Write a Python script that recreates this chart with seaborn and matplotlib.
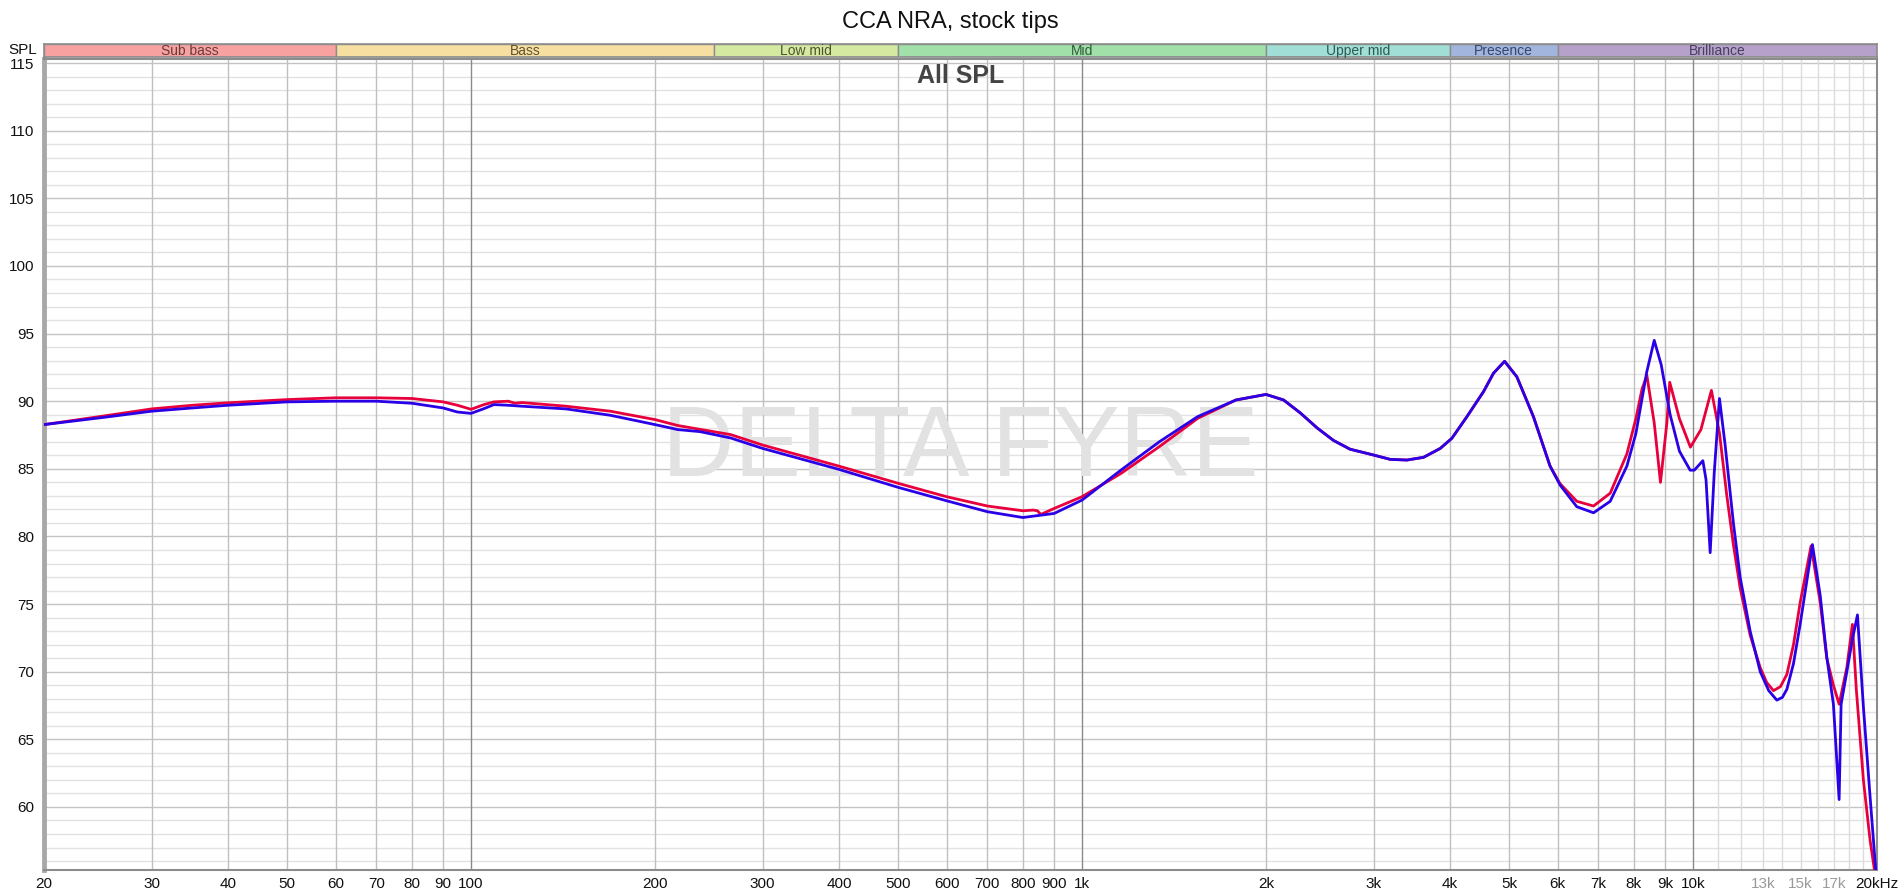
import numpy as np
import pandas as pd
import matplotlib
matplotlib.use("Agg")
import matplotlib.pyplot as plt
import seaborn as sns

# === Data ===
red_freq = [20, 25, 30, 35, 40, 50, 60, 70, 80, 90, 95, 100, 105, 109, 115, 118, 121,
            143, 169, 200, 218, 237, 266, 300, 400, 500, 600, 700, 800, 832, 845, 856,
            900, 1000, 1159, 1338, 1546, 1786, 2000, 2137, 2275, 2424, 2579, 2746, 3000,
            3193, 3401, 3621, 3857, 4030, 4265, 4540, 4714, 4915, 5148, 5480, 5834, 6058,
            6452, 6872, 7318, 7792, 8060, 8250, 8402, 8638, 8844, 9060, 9158, 9500, 9900,
            10300, 10716, 11050, 11350, 11640, 11940, 12400, 12880, 13200, 13540, 13900,
            14240, 14600, 14970, 15600, 16150, 16550, 16970, 17340, 17850, 18230, 18500,
            19000, 19490, 19800, 20000]
red_spl = [88.27, 88.9, 89.43, 89.7, 89.88, 90.12, 90.25, 90.25, 90.2, 89.95, 89.7, 89.4, 89.75,
           89.95, 90.0, 89.85, 89.9, 89.63, 89.26, 88.64, 88.2, 87.92, 87.53, 86.76, 85.2, 83.93,
           82.94, 82.25, 81.9, 81.95, 81.9, 81.63, 82.07, 82.94, 84.67, 86.64, 88.73, 90.09, 90.5,
           90.09, 89.14, 88.03, 87.1, 86.45, 86.02, 85.7, 85.65, 85.85, 86.51, 87.26, 88.86, 90.71,
           92.07, 92.95, 91.8, 88.85, 85.2, 83.9, 82.6, 82.25, 83.2, 86.1, 88.7, 90.9, 91.9, 88.4,
           84.0, 88.4, 91.4, 88.7, 86.6, 87.9, 90.8, 87.6, 83.1, 79.4, 76.2, 72.7, 70.3, 69.2,
           68.6, 68.9, 69.8, 72.0, 75.1, 79.3, 75.1, 71.0, 69.0, 67.6, 70.3, 73.5, 68.7, 62.0,
           57.5, 55.4, 55.0]

blue_freq = [20, 25, 30, 35, 40, 50, 60, 70, 80, 90, 95, 100, 105, 109, 115, 121, 143, 169,
             200, 218, 237, 266, 300, 400, 500, 600, 700, 800, 900, 1000, 1159, 1338, 1546,
             1786, 2000, 2137, 2275, 2424, 2579, 2746, 3000, 3193, 3401, 3621, 3857, 4030,
             4265, 4540, 4714, 4915, 5148, 5480, 5834, 6058, 6452, 6872, 7318, 7792, 8060,
             8402, 8638, 8868, 9172, 9500, 9890, 10046, 10376, 10500, 10666, 10830, 11046,
             11282, 11641, 11940, 12400, 12880, 13300, 13710, 14000, 14240, 14600, 14970,
             15680, 16150, 16550, 16970, 17340, 17470, 17850, 18230, 18580, 19000, 19490,
             19900, 20000]
blue_spl = [88.27, 88.8, 89.26, 89.5, 89.7, 89.95, 90.0, 90.0, 89.85, 89.5, 89.2, 89.1, 89.45,
            89.75, 89.7, 89.63, 89.43, 88.96, 88.27, 87.9, 87.75, 87.28, 86.51, 84.96, 83.63,
            82.64, 81.83, 81.4, 81.7, 82.69, 84.92, 87.0, 88.86, 90.09, 90.5, 90.09, 89.14,
            88.03, 87.1, 86.45, 86.02, 85.7, 85.65, 85.85, 86.51, 87.26, 88.86, 90.71, 92.07,
            92.95, 91.8, 88.85, 85.2, 83.8, 82.2, 81.75, 82.6, 85.2, 87.6, 92.2, 94.5, 92.7,
            89.0, 86.3, 84.9, 84.9, 85.6, 84.2, 78.8, 84.7, 90.2, 86.8, 81.0, 77.0, 73.0, 70.0,
            68.6, 67.9, 68.1, 68.7, 70.6, 73.5, 79.4, 75.6, 71.1, 67.6, 60.55, 67.6, 70.0, 72.4,
            74.2, 67.4, 60.7, 55.4, 55.0]

band_names = ["Sub bass", "Bass", "Low mid", "Mid", "Upper mid", "Presence", "Brilliance"]
band_edges = [20, 60, 250, 500, 2000, 4000, 6000, 20000]
band_colors = ["#F7A1A1", "#F7DFA1", "#D5E9A1", "#A1E1A9", "#A1DED6", "#A1B5DD", "#B5A1C9"]
band_text = ["#6A3A3A", "#5E5230", "#4A5630", "#335A3A", "#2F5A55", "#36456A", "#4A3E5E"]

x_ticks = [20, 30, 40, 50, 60, 70, 80, 90, 100, 200, 300, 400, 500, 600, 700, 800, 900,
           1000, 2000, 3000, 4000, 5000, 6000, 7000, 8000, 9000, 10000, 13000, 15000, 17000, 20000]
x_labels = ["20", "30", "40", "50", "60", "70", "80", "90", "100", "200", "300", "400", "500",
            "600", "700", "800", "900", "1k", "2k", "3k", "4k", "5k", "6k", "7k", "8k", "9k",
            "10k", "13k", "15k", "17k", "20kHz"]
y_ticks = list(range(60, 116, 5))

df = pd.concat([
    pd.DataFrame({"freq": red_freq, "spl": red_spl, "series": "red"}),
    pd.DataFrame({"freq": blue_freq, "spl": blue_spl, "series": "blue"}),
])

# === Style ===
sns.set_style("white")
narrow = ["Liberation Sans Narrow", "Liberation Sans", "DejaVu Sans"]
plt.rcParams["font.family"] = ["Liberation Sans", "DejaVu Sans"]

W, H = 1900, 896
fig = plt.figure(figsize=(19, 8.96), dpi=100)
ax = fig.add_axes([44 / W, 1 - 870 / H, (1877 - 44) / W, (870 - 59) / H])
band_ax = fig.add_axes([44 / W, 1 - 57 / H, (1877 - 44) / W, 13 / H])

# grid
for v in np.arange(56, 116, 1):
    major = v % 5 == 0
    ax.axhline(v, color="#C4C4C4" if major else "#E2E2E2", lw=1.0, zorder=0)
grid_x = list(range(30, 100, 10)) + list(range(200, 1000, 100)) + list(range(2000, 10000, 1000))
for f in grid_x:
    ax.axvline(f, color="#C0C0C0", lw=1.0, zorder=0)
for f in range(11000, 20000, 1000):
    ax.axvline(f, color="#DCDCDC", lw=1.0, zorder=0)
for f in [100, 1000, 10000]:
    ax.axvline(f, color="#8A8A8A", lw=1.0, zorder=0)

ax.text(0.5, 0.518, "DELTA FYRE", transform=ax.transAxes, ha="center", va="center",
        fontsize=72, color="#E2E2E2", zorder=0.5)
ax.text(0.5, 0.979, "All SPL", transform=ax.transAxes, ha="center", va="center",
        fontsize=18, fontweight="bold", color="#444444")

sns.lineplot(data=df, x="freq", y="spl", hue="series", palette={"red": "#E8003C", "blue": "#2A00E6"},
             estimator=None, sort=False, legend=False, lw=2.0, ax=ax, zorder=3)

ax.set_xscale("log")
ax.set_xlim(20, 20000)
ax.set_ylim(55.34, 115.3)
ax.set_xticks(x_ticks)
ax.set_xticklabels(x_labels)
ax.minorticks_off()
ax.set_yticks(y_ticks)
ax.set_xlabel("")
ax.set_ylabel("")
ax.tick_params(axis="both", length=0, labelsize=11, colors="#111111")
ax.tick_params(axis="y", pad=7)
ax.tick_params(axis="x", pad=5)
for lab in ax.get_xticklabels() + ax.get_yticklabels():
    lab.set_family(narrow)
for lab in ax.get_xticklabels():
    if lab.get_text() in ("13k", "15k", "17k"):
        lab.set_color("#9A9A9A")
for side in ["top", "right", "bottom"]:
    ax.spines[side].set_color("#8C8C8C")
    ax.spines[side].set_linewidth(1.5)
ax.spines["left"].set_color("#A8A8A8")
ax.spines["left"].set_linewidth(3.5)

# frequency band bar
band_ax.set_xscale("log")
band_ax.set_xlim(20, 20000)
band_ax.set_ylim(0, 1)
for name, lo, hi, c, tc in zip(band_names, band_edges[:-1], band_edges[1:], band_colors, band_text):
    band_ax.axvspan(lo, hi, color=c, ec="#8C8C8C", lw=1.0)
    band_ax.text(np.sqrt(lo * hi), 0.45, name, ha="center", va="center", fontsize=10,
                 color=tc, family=narrow)
band_ax.set_xticks([])
band_ax.set_yticks([])
band_ax.minorticks_off()
for s in band_ax.spines.values():
    s.set_color("#8C8C8C")
    s.set_linewidth(1.2)

fig.text(0.5, 1 - 22 / H, "CCA NRA, stock tips", ha="center", va="center", fontsize=17, color="#111111")
fig.text(37 / W, 1 - 50 / H, "SPL", ha="right", va="center", fontsize=11, family=narrow, color="#111111")

fig.savefig("out.png", dpi=100)
